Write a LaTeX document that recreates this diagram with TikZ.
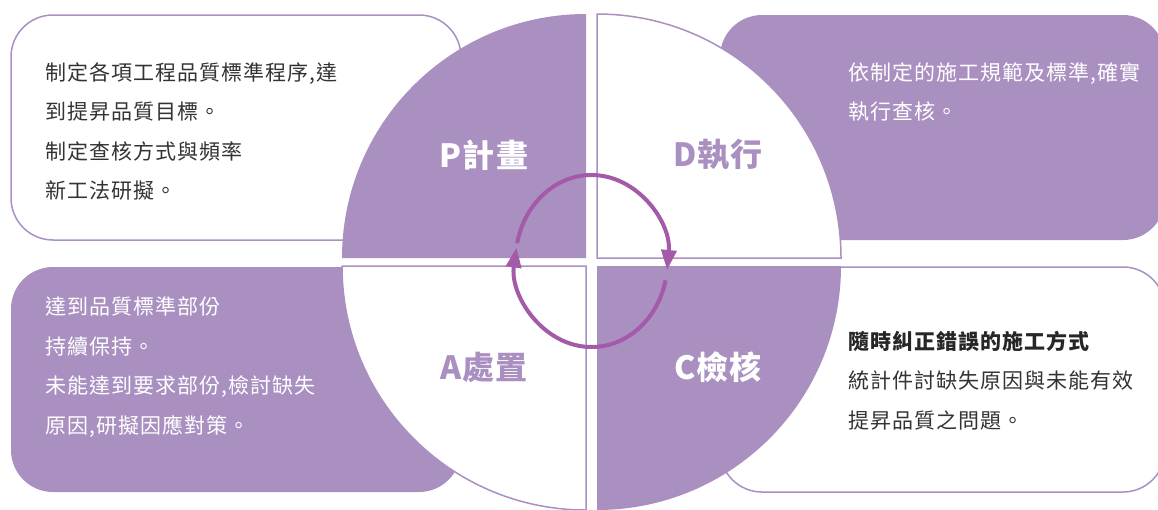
\documentclass[tikz,border=0pt]{standalone}
\usepackage{fontspec}
\setmainfont{Noto Sans CJK TC}
\usetikzlibrary{arrows.meta}
\definecolor{lav}{RGB}{170,144,193}
\definecolor{plum}{RGB}{163,90,168}
\definecolor{ink}{RGB}{51,51,51}
\tikzset{
  note/.style={anchor=west, align=left, inner sep=0pt,
    font=\fontsize{21}{39.5}\selectfont\addfontfeatures{LetterSpace=5}},
  tag/.style={inner sep=0pt, font=\fontsize{32}{32}\selectfont\bfseries\addfontfeatures{LetterSpace=4}},
  rim/.style={lav, line width=1.5pt},
  cyclearrow/.style={plum, line width=4pt, -{Triangle[length=20pt, width=15pt]}},
}
\begin{document}
\begin{tikzpicture}[x=1pt, y=-1pt]
   \useasboundingbox (0,0) rectangle (1158,509);
   % boxes behind the wheel
   \draw[rim, fill=white, rounded corners=42pt] (11,15) rectangle (461,240);
   \fill[lav, rounded corners=42pt] (720,15) rectangle (1165,240);
   \fill[lav, rounded corners=42pt] (11,267) rectangle (461,492);
   \draw[rim, fill=white, rounded corners=42pt] (720,267) rectangle (1165,492);
   % the four quarters
   \fill[lav] (586,258) -- (342,258) arc[start angle=180, end angle=270, radius=244] -- cycle;
   \draw[rim, fill=white] (597,258) -- (597,14) arc[start angle=270, end angle=360, radius=244] -- cycle;
   \draw[rim, fill=white] (586,266) -- (342,266) arc[start angle=180, end angle=90, radius=244] -- cycle;
   \fill[lav] (597,266) -- (597,510) arc[start angle=90, end angle=0, radius=244] -- cycle;
   % labels
   \node[tag, white] (plan) at (484,155) {P計畫};
   \node[tag, lav] (do) at (718,155) {D執行};
   \node[tag, lav] (act) at (484,367) {A處置};
   \node[tag, white] (check) at (718,367) {C檢核};
   % the cycle
   \coordinate (o) at (591.5,261);
   \draw[cyclearrow] (o) ++(192:76 and 86) arc[start angle=192, end angle=366, x radius=76, y radius=86];
   \draw[cyclearrow] (o) ++(13:76 and 86) arc[start angle=13, end angle=189, x radius=76, y radius=86];
   % texts
   \node[note, ink] (plantext) at (45,131.5) {制定各項工程品質標準程序,達\\到提昇品質目標。\\制定查核方式與頻率\\新工法研擬。};
   \node[note, white] (dotext) at (848,92) {依制定的施工規範及標準,確實\\執行查核。};
   \node[note, white] (acttext) at (45,367) {達到品質標準部份\\持續保持。\\未能達到要求部份,檢討缺失\\原因,研擬因應對策。};
   \node[note, ink] (checktext) at (848,380.5) {{\color{black!85}\bfseries 隨時糾正錯誤的施工方式}\\統計件討缺失原因與未能有效\\提昇品質之問題。};
\end{tikzpicture}
\end{document}
